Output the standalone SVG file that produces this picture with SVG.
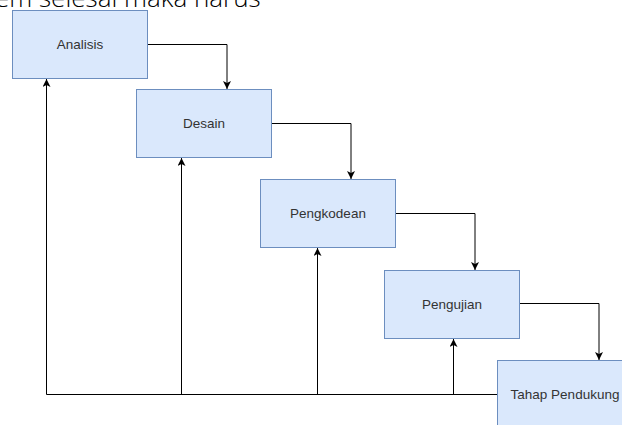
<svg xmlns="http://www.w3.org/2000/svg" width="622" height="425" viewBox="0 0 622 425">
<defs>
<style>
.box{fill:#dae8fc;stroke:#6c8ebf;stroke-width:1}
.lbl{font-family:"Liberation Sans",Arial,sans-serif;font-size:13.5px;fill:#333;text-anchor:middle;dominant-baseline:central}
.edge{fill:none;stroke:#000;stroke-width:1}
.top{font-family:"Open Sans","Noto Sans",sans-serif;font-size:26px;font-weight:300;fill:#000}
</style>
<marker id="ah" markerWidth="8" markerHeight="8" viewBox="0 0 8 8" refX="8" refY="4" orient="auto" markerUnits="userSpaceOnUse">
<path d="M0,0 L8,4 L0,8 L2,4 Z" fill="#000"/>
</marker>
</defs>
<rect width="622" height="425" fill="#fff"/>
<text class="top" x="-5" y="7">em selesai maka harus</text>
<g id="connectors">
<path class="edge" d="M147.5,44.5 H227 V89" marker-end="url(#ah)"/>
<path class="edge" d="M271.5,123.5 H351 V179" marker-end="url(#ah)"/>
<path class="edge" d="M395.5,213.5 H475 V270" marker-end="url(#ah)"/>
<path class="edge" d="M519.5,303.5 H599 V360" marker-end="url(#ah)"/>
<path class="edge" d="M497.5,394.5 H46.5"/>
<path class="edge" d="M46.5,394.5 V79" marker-end="url(#ah)"/>
<path class="edge" d="M181.5,394.5 V158" marker-end="url(#ah)"/>
<path class="edge" d="M317.5,394.5 V248" marker-end="url(#ah)"/>
<path class="edge" d="M453.5,394.5 V339" marker-end="url(#ah)"/>
</g>
<g id="analisis"><rect class="box" x="12.5" y="10.5" width="135" height="68"/><text class="lbl" x="80" y="44.5">Analisis</text></g>
<g id="desain"><rect class="box" x="136.5" y="89.5" width="135" height="68"/><text class="lbl" x="204" y="123.5">Desain</text></g>
<g id="pengkodean"><rect class="box" x="260.5" y="179.5" width="135" height="68"/><text class="lbl" x="328" y="213.5">Pengkodean</text></g>
<g id="pengujian"><rect class="box" x="384.5" y="270.5" width="135" height="68"/><text class="lbl" x="452" y="304">Pengujian</text></g>
<g id="tahap"><rect class="box" x="497.5" y="360.5" width="135" height="68"/><text class="lbl" x="565" y="394.5">Tahap Pendukung</text></g>
</svg>
